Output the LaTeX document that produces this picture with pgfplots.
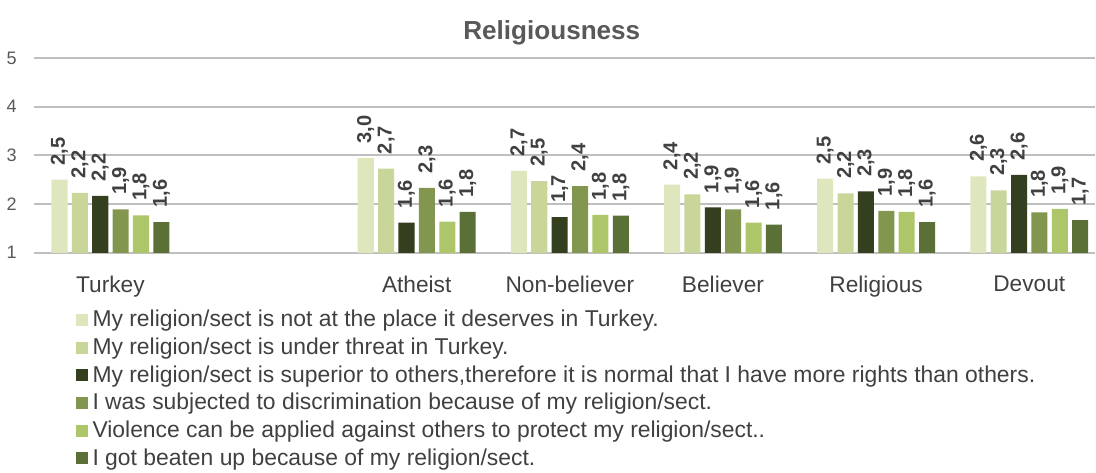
\documentclass[border=0pt]{standalone}
\usepackage{pgfplots}
\pgfplotsset{compat=1.18}
\usepackage{fontspec}
\setmainfont{Liberation Sans}
\definecolor{cA}{HTML}{DEE6BE}
\definecolor{cB}{HTML}{C9D69A}
\definecolor{cC}{HTML}{333F1F}
\definecolor{cD}{HTML}{83964F}
\definecolor{cE}{HTML}{AEC66A}
\definecolor{cF}{HTML}{5B7036}
\definecolor{txt}{HTML}{404040}
\definecolor{tick}{HTML}{595959}
\definecolor{grid}{HTML}{D9D9D9}
\begin{document}
\begin{tikzpicture}
\begin{axis}[
  scale only axis,
  width=528.5pt, height=97pt,
  ymin=1, ymax=5, ytick={1,2,3,4,5},
  xmin=-0.5, xmax=6.43,
  xtick={0,1,2,3,4,5,6},
  xticklabels={Turkey,,Atheist,Non-believer,Believer,Religious,Devout},
  x tick label style={font=\fontsize{11.3}{13}\selectfont, text=txt, yshift=-8pt},
  y tick label style={font=\fontsize{9}{11}\selectfont, text=tick, xshift=-5pt},
  /pgf/number format/assume math mode=true,
  major tick length=0pt,
  axis line style={draw=none},
  xmajorgrids=false, ymajorgrids=true, grid style={grid, line width=0.9pt},
  title={\textbf{Religiousness}},
  title style={font=\fontsize{13}{15}\selectfont, text=tick, at={(0.488,1)}, inner ysep=10pt, yshift=-9.5pt},
  ybar=2.15pt, bar width=8pt,
  nodes near coords,
  nodes near coords style={rotate=90, anchor=west, inner xsep=7pt, font=\bfseries\fontsize{10}{12}\selectfont, text=txt,
    /pgf/number format/.cd, fixed, fixed zerofill, precision=1, use comma},
  legend style={at={(0,0)}, anchor=north west, inner sep=0pt, xshift=21pt, yshift=-26.5pt, draw=none, fill=none,
    font=\fontsize{11.4}{12}\selectfont, text=txt, row sep=0pt, cells={anchor=west},
    /tikz/every even column/.append style={column sep=0pt}},
  legend cell align=left,
  area legend,
  legend image code/.code={\fill[#1] (0pt,-3pt) rectangle (6pt,3pt);},
]
\addplot[fill=cA, draw=none] coordinates {(0,2.50) (2,2.95) (3,2.68) (4,2.40) (5,2.52) (6,2.57)};
\addplot[fill=cB, draw=none] coordinates {(0,2.23) (2,2.73) (3,2.47) (4,2.20) (5,2.22) (6,2.28)};
\addplot[fill=cC, draw=none] coordinates {(0,2.17) (2,1.62) (3,1.73) (4,1.93) (5,2.26) (6,2.60)};
\addplot[fill=cD, draw=none] coordinates {(0,1.89) (2,2.33) (3,2.37) (4,1.89) (5,1.86) (6,1.83)};
\addplot[fill=cE, draw=none] coordinates {(0,1.77) (2,1.64) (3,1.78) (4,1.62) (5,1.84) (6,1.90)};
\addplot[fill=cF, draw=none] coordinates {(0,1.63) (2,1.84) (3,1.76) (4,1.58) (5,1.63) (6,1.67)};
\legend{My religion/sect is not at the place it deserves in Turkey.,
My religion/sect is under threat in Turkey.,
{My religion/sect is superior to others,therefore it is normal that I have more rights than others.},
I was subjected to discrimination because of my religion/sect.,
Violence can be applied against others to protect my religion/sect..,
I got beaten up because of my religion/sect.}
\end{axis}
\end{tikzpicture}
\end{document}
